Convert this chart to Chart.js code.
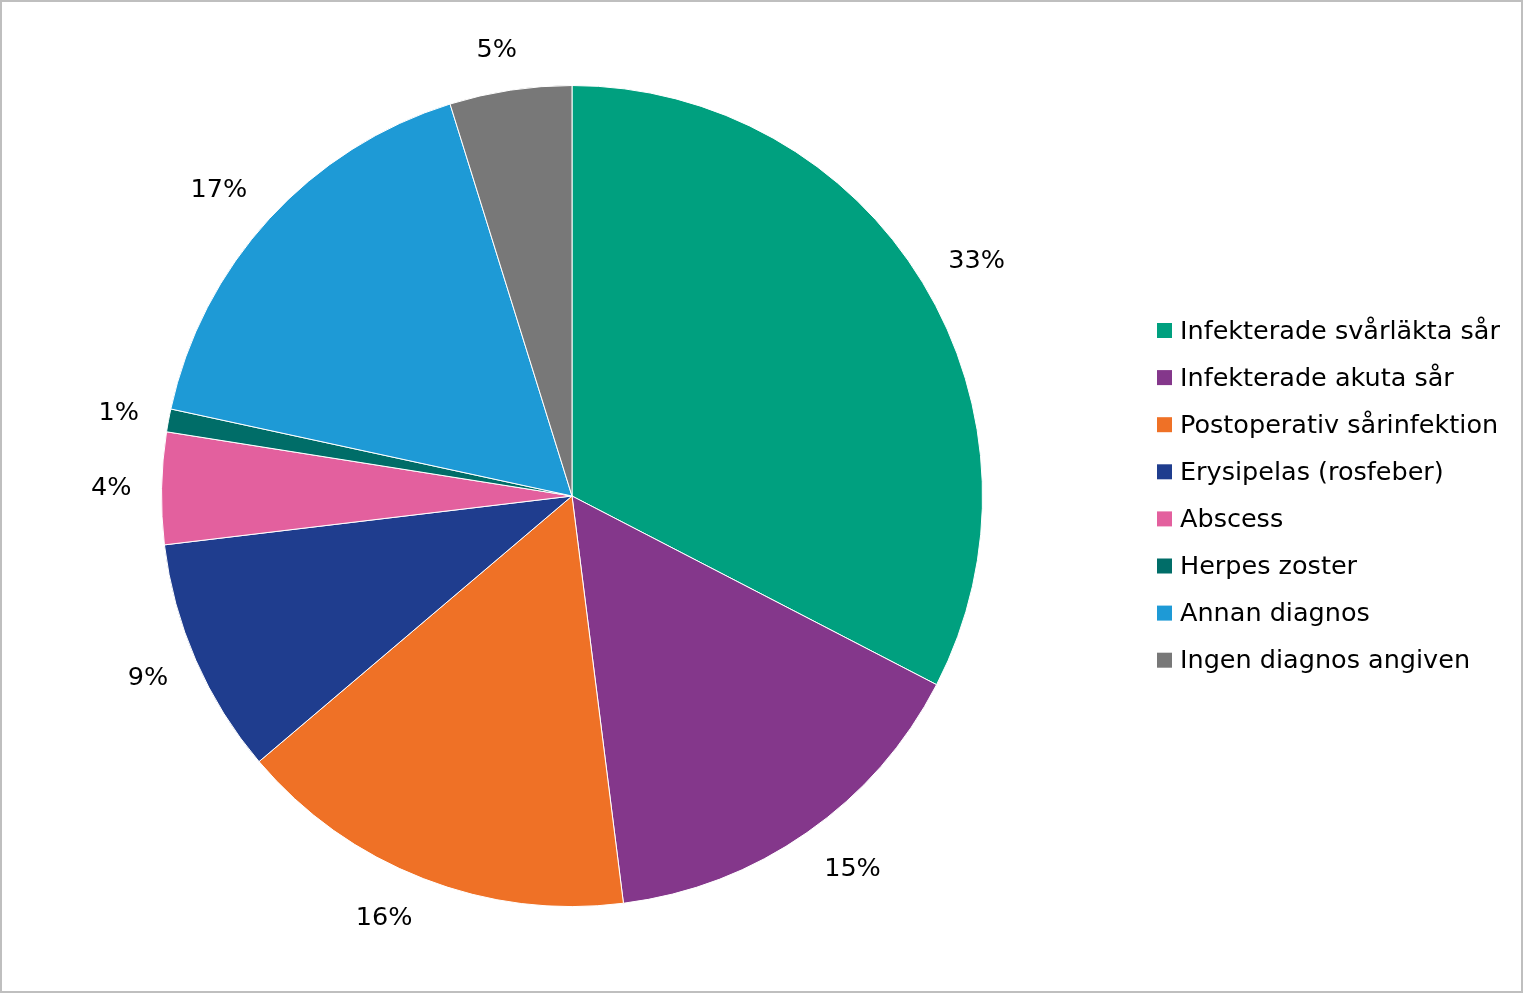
<!DOCTYPE html>
<html>
<head>
<meta charset="utf-8">
<script src="https://cdn.jsdelivr.net/npm/chart.js@4/dist/chart.umd.min.js"></script>
<style>
  html, body { margin: 0; padding: 0; background: #fff; }
  #wrap { width: 1523px; height: 993px; position: relative; }
</style>
</head>
<body>
<div id="wrap"><canvas id="chart" width="1523" height="993"></canvas></div>
<script>
const categories = [
  "Infekterade svårläkta sår",
  "Infekterade akuta sår",
  "Postoperativ sårinfektion",
  "Erysipelas (rosfeber)",
  "Abscess",
  "Herpes zoster",
  "Annan diagnos",
  "Ingen diagnos angiven"
];
const shares = [32.6, 15.4, 15.8, 9.3, 4.4, 0.9, 16.8, 4.8];
const percentLabels = ["33%", "15%", "16%", "9%", "4%", "1%", "17%", "5%"];
const colors = ["#00A07F", "#84378B", "#EF7126", "#1F3D8E", "#E3609E", "#006D68", "#1E9AD6", "#787878"];

const FONT = "25.5px 'DejaVu Sans', Verdana, sans-serif";

const clamp = (v) => Math.max(-1, Math.min(1, v));

// outside percentage labels: inner corner of the text box sits on the mid-angle ray
const sliceLabels = {
  id: "sliceLabels",
  afterDatasetsDraw(chart) {
    const ctx = chart.ctx;
    const meta = chart.getDatasetMeta(0);
    ctx.save();
    ctx.font = FONT;
    ctx.fillStyle = "#000";
    ctx.textAlign = "center";
    ctx.textBaseline = "middle";
    meta.data.forEach((arc, i) => {
      const mid = (arc.startAngle + arc.endAngle) / 2;
      const dx = Math.cos(mid);
      const dy = Math.sin(mid);
      const w = ctx.measureText(percentLabels[i]).width;
      const h = 22;
      const r = arc.outerRadius + 30;
      const x = arc.x + dx * r + clamp(dx * 3) * w / 2;
      const y = arc.y + dy * r + clamp(dy * 1.2) * h / 2;
      ctx.fillText(percentLabels[i], x, y + 1);
    });
    ctx.restore();
  }
};

// legend on the right, plus the frame
const sideLegend = {
  id: "sideLegend",
  afterDraw(chart) {
    const ctx = chart.ctx;
    ctx.save();
    ctx.font = FONT;
    ctx.textBaseline = "middle";
    categories.forEach((name, i) => {
      const y = 331 + i * 47.1;
      ctx.fillStyle = colors[i];
      ctx.fillRect(1157, y - 8, 15, 15);
      ctx.fillStyle = "#000";
      ctx.fillText(name, 1180, y + 1);
    });
    ctx.strokeStyle = "#BFBFBF";
    ctx.lineWidth = 2;
    ctx.strokeRect(1, 1, chart.width - 2, chart.height - 2);
    ctx.restore();
  }
};

new Chart(document.getElementById("chart"), {
  type: "pie",
  data: {
    labels: categories,
    datasets: [{
      data: shares,
      backgroundColor: colors,
      borderColor: "#fff",
      borderWidth: 1
    }]
  },
  options: {
    responsive: false,
    animation: false,
    layout: { padding: { top: 85, bottom: 86, left: 161, right: 540 } },
    plugins: {
      legend: { display: false },
      tooltip: { enabled: false }
    }
  },
  plugins: [sliceLabels, sideLegend]
});
</script>
</body>
</html>
